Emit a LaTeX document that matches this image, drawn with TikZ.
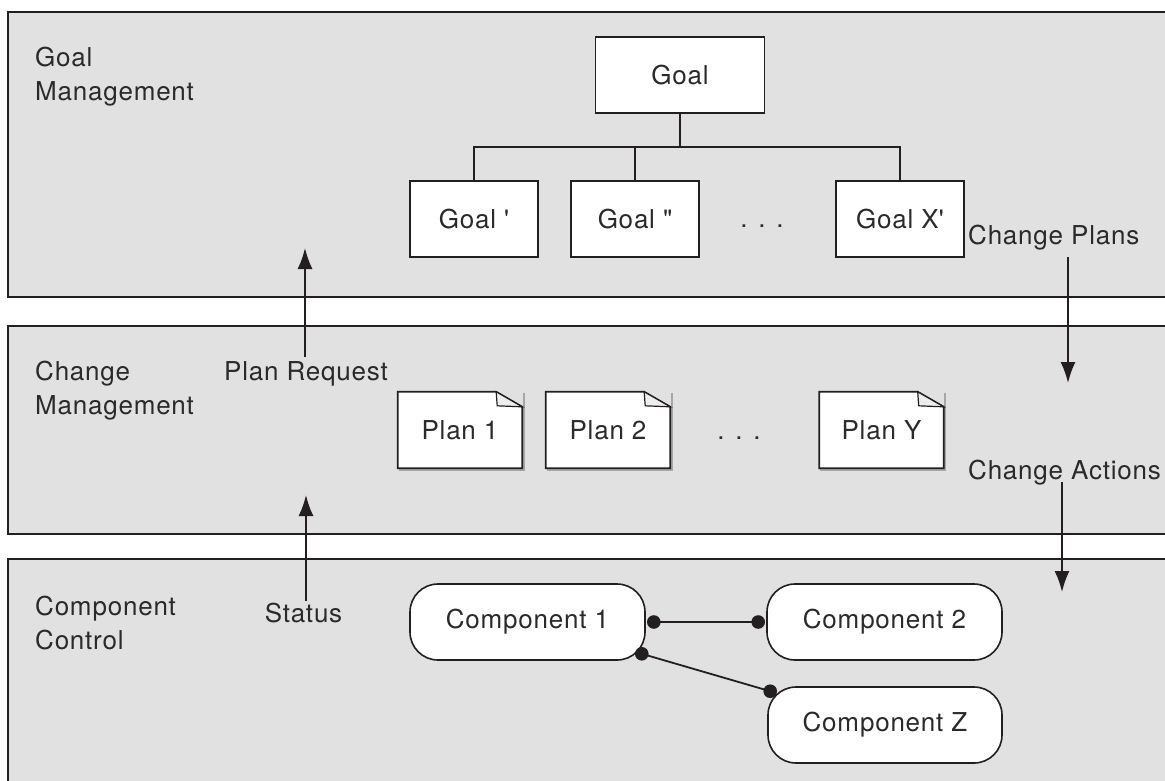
\documentclass[tikz,border=0pt]{standalone}
\usepackage{fontspec}
\setmainfont{TeX Gyre Heros}[LetterSpace=3]
\usetikzlibrary{arrows.meta,calc}
\pgfdeclarelayer{bg}
\pgfdeclarelayer{mid}
\pgfsetlayers{bg,mid,main}
\definecolor{panelgray}{HTML}{E1E1E1}
\definecolor{ink}{HTML}{231F20}
\definecolor{txt}{HTML}{2A2A2A}
\definecolor{foldgray}{HTML}{EEEEEE}
\begin{document}
\begin{tikzpicture}[x=1pt,y=-1pt,
 every node/.style={font=\fontsize{26}{34}\selectfont, text=txt},
 panel/.style={draw=ink, line width=2pt, fill=panelgray},
 goalbox/.style={draw=ink, line width=1.8pt, fill=white, minimum width=128pt, minimum height=76pt, inner sep=0pt},
 planbox/.style={minimum width=124pt, minimum height=76pt, inner sep=0pt},
 planshape/.style={draw=ink, line width=1.8pt, fill=white},
 foldshape/.style={draw=ink, line width=1.2pt, fill=foldgray},
 compbox/.style={draw=ink, line width=1.6pt, fill=white, rounded corners=28pt, minimum width=235pt, minimum height=76pt, inner sep=0pt},
 link/.style={draw=ink, line width=1.8pt},
 flow/.style={draw=ink, line width=1.8pt, -{Latex[length=21pt,width=15pt]}},
 lbl/.style={inner sep=0pt, align=left, anchor=north west},
 plain/.style={inner sep=0pt}
]
\useasboundingbox (0,0) rectangle (1165,780);
\begin{pgfonlayer}{bg}
 \fill[white] (0,0) rectangle (1165,780);
 \draw[panel] (8,12) rectangle (1180,297);
 \draw[panel] (8,326) rectangle (1180,534);
 \draw[panel] (8,559) rectangle (1180,800);
\end{pgfonlayer}

% layer labels
\node[lbl] (lgoal) at (35,47) {Goal\\Management};
\node[lbl] (lchange) at (35,361) {Change\\Management};
\node[lbl] (lcomp) at (35,596) {Component\\Control};

% goal tree
\node[goalbox, minimum width=169pt] (goal) at (680,75) {Goal};
\node[goalbox] (g1) at (474,219) {Goal \textquotesingle};
\node[goalbox] (g2) at (635,219) {Goal \textquotedbl};
\node[goalbox] (gx) at (900,219) {Goal X\textquotesingle};
\node[plain, anchor=base] (gdots) at (762,227) {. . .};
\coordinate (bus) at (0,147);
\draw[link] (goal.south) -- (goal.south |- bus);
\draw[link] (g1.north) |- (gx.north |- bus) -- (gx.north);
\draw[link] (g2.north) -- (g2.north |- bus);

% plans
\node[planbox] (p1) at (460,430) {Plan 1};
\node[planbox] (p2) at (608,430) {Plan 2};
\node[planbox] (py) at (881.5,430) {Plan Y};
\node[plain, anchor=base] (pdots) at (739,439) {. . .};
\begin{pgfonlayer}{mid}
 \foreach \p in {p1,p2,py}{
  \draw[gray!70, line width=2pt] ([shift={(1.6pt,-1pt)}]\p.north east) -- ([shift={(1.6pt,-1.6pt)}]\p.south east) -- ([shift={(1pt,-1.6pt)}]\p.south west);
  \draw[planshape] (\p.north west) -- ([xshift=-26pt]\p.north east) -- ([yshift=-15pt]\p.north east) -- (\p.south east) -- (\p.south west) -- cycle;
  \draw[foldshape] ([xshift=-26pt]\p.north east) -- ([xshift=-25pt,yshift=-14pt]\p.north east) -- ([yshift=-15pt]\p.north east) -- cycle;
 }
\end{pgfonlayer}

% components
\node[compbox] (c1) at (527.5,622) {Component 1};
\node[compbox] (c2) at (884.5,622) {Component 2};
\node[compbox, minimum width=234pt] (cz) at (885,725) {Component Z};
\coordinate (d1) at ([xshift=8pt]c1.east);
\coordinate (d2) at ([xshift=-8pt]c2.west);
\coordinate (d3) at ([xshift=-4pt,yshift=7pt]c1.south east);
\coordinate (d4) at ([xshift=3pt,yshift=-5pt]cz.north west);
\draw[link] (d1) -- (d2);
\draw[link] (d3) -- (d4);
\foreach \d in {d1,d2,d3,d4} \fill[ink] (\d) circle (6.8pt);

% flows
\node[plain, anchor=base] (pr) at (306,380) {Plan Request};
\node[plain, anchor=base] (st) at (303.5,622) {Status};
\node[plain, anchor=base west] (cp) at (968,244) {Change Plans};
\node[plain, anchor=base west] (ca) at (968,479) {Change Actions};
\coordinate (prtip) at (305,248);
\coordinate (sttip) at (306,495);
\coordinate (cptip) at (1068,383);
\coordinate (catip) at (1062,592);
\draw[flow] ($(pr.north)+(-1,-4)$) -- (prtip);
\draw[flow] ($(st.north)+(2.5,-1)$) -- (sttip);
\draw[flow] ($(cp.base west)+(100,13)$) -- (cptip);
\draw[flow] ($(ca.base west)+(94,3)$) -- (catip);
\end{tikzpicture}
\end{document}
